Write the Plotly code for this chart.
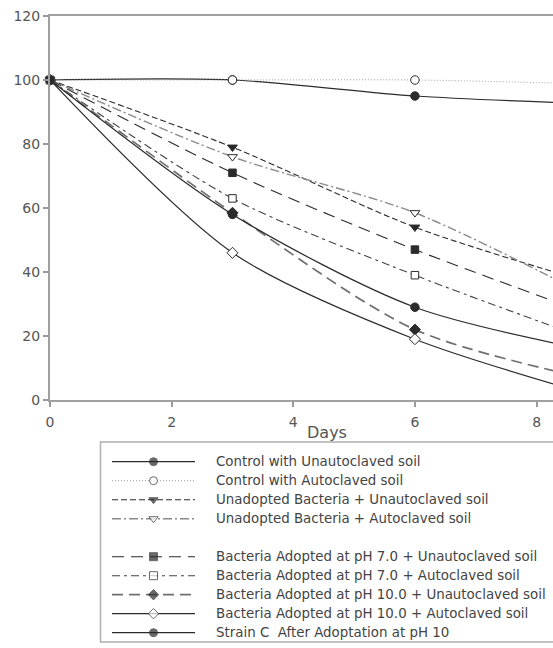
import plotly.graph_objects as go

days = [0, 3, 6, 9]

ctrl_unauto = [100, 100, 95, 92.5]
ctrl_auto = [100, 100, 100, 98.7]
unad_unauto = [100, 79, 54, 36]
unad_auto = [100, 76, 58.5, 31]
ph7_unauto = [100, 71, 47, 26]
ph7_auto = [100, 63, 39, 18]
ph10_unauto = [100, 58.5, 22, 6]
ph10_auto = [100, 46, 19, 1]
strain_c = [100, 58, 29, 15]

names = [
    "Control with Unautoclaved soil",
    "Control with Autoclaved soil",
    "Unadopted Bacteria + Unautoclaved soil",
    "Unadopted Bacteria + Autoclaved soil",
    "Bacteria Adopted at pH 7.0 + Unautoclaved soil",
    "Bacteria Adopted at pH 7.0 + Autoclaved soil",
    "Bacteria Adopted at pH 10.0 + Unautoclaved soil",
    "Bacteria Adopted at pH 10.0 + Autoclaved soil",
    "Strain C  After Adoptation at pH 10",
]
values = [ctrl_unauto, ctrl_auto, unad_unauto, unad_auto, ph7_unauto,
          ph7_auto, ph10_unauto, ph10_auto, strain_c]
legend_rows = [0, 1, 2, 3, 5, 6, 7, 8, 9]

DARK = "#2b2b2b"
styles = [
    dict(dash="solid", color=DARK, width=1.2, symbol="circle", fill=DARK),
    dict(dash="1px,2px", color="#9a9a9a", width=1.0, symbol="circle", fill="white"),
    dict(dash="6px,3px", color=DARK, width=1.1, symbol="triangle-down", fill=DARK),
    dict(dash="9px,3px,2px,3px", color="#8a8a8a", width=1.4, symbol="triangle-down", fill="white"),
    dict(dash="12px,7px", color=DARK, width=1.1, symbol="square", fill=DARK),
    dict(dash="8px,4px,3px,4px", color="#444444", width=1.1, symbol="square", fill="white"),
    dict(dash="11px,6px", color="#6f6f6f", width=1.7, symbol="diamond", fill=DARK),
    dict(dash="solid", color=DARK, width=1.2, symbol="diamond", fill="white"),
    dict(dash="solid", color=DARK, width=1.2, symbol="circle", fill=DARK),
]

W, H = 553, 648
ML, MT = 50, 16
plot_bottom_px = 400
paper_h = H - MT
main_dom_lo = (H - plot_bottom_px) / paper_h

def px_x(p):
    return (p - ML) / (W - ML)

def px_y(p):
    return (H - p) / paper_h

SAMPLE_L, SAMPLE_R = 112, 195
sample_w = SAMPLE_R - SAMPLE_L
x2_max = (W - SAMPLE_L) / sample_w
text_x = (214 - SAMPLE_L) / sample_w

FONT = "DejaVu Sans, Arial"

fig = go.Figure()

for name, vals, st in zip(names, values, styles):
    fig.add_trace(go.Scatter(
        x=days, y=vals, mode="lines+markers", name=name,
        line=dict(color=st["color"], width=st["width"], dash=st["dash"],
                  shape="spline", smoothing=0.8),
        marker=dict(symbol=st["symbol"], size=8.5 if st["symbol"] != "square" else 7.5,
                    color=st["fill"], line=dict(color=DARK, width=1)),
        cliponaxis=False, showlegend=False,
        xaxis="x", yaxis="y",
    ))

# legend built on a hidden helper axis pair (rows indexed from legend_rows)
for name, row, st in zip(names, legend_rows, styles):
    fig.add_trace(go.Scatter(
        x=[0, 0.5, 1], y=[row, row, row], mode="lines+markers",
        line=dict(color=st["color"], width=st["width"], dash=st["dash"]),
        marker=dict(symbol=st["symbol"], size=[0, 8, 0],
                    color=st["fill"], line=dict(color=DARK, width=[0, 1, 0])),
        cliponaxis=False, showlegend=False, hoverinfo="skip",
        xaxis="x2", yaxis="y2",
    ))
    fig.add_annotation(x=text_x, y=row, xref="x2", yref="y2", text=name,
                       showarrow=False, xanchor="left", yanchor="middle",
                       font=dict(family=FONT, size=13.4, color="#444444"))

fig.add_annotation(x=4.55, y=px_y(432), xref="x", yref="paper", text="Days",
                   showarrow=False, xanchor="center", yanchor="middle",
                   font=dict(family=FONT, size=16, color="#555555"))

fig.add_shape(type="rect", xref="paper", yref="paper",
              x0=px_x(100.5), x1=1.2, y0=px_y(642), y1=px_y(442),
              line=dict(color="#b0b0b0", width=1.5), fillcolor="rgba(0,0,0,0)")

axis_font = dict(family=FONT, size=14, color="#555555")
fig.update_layout(
    width=W, height=H,
    margin=dict(l=ML, r=0, t=MT, b=0, pad=0, autoexpand=False),
    paper_bgcolor="white", plot_bgcolor="white",
    showlegend=False,
    xaxis=dict(range=[0, 8.27], tickvals=[0, 2, 4, 6, 8], ticks="outside",
               ticklen=5, tickcolor="#999999", tickwidth=1.5,
               showline=True, linecolor="#a0a0a0", linewidth=2, mirror=True,
               showgrid=False, zeroline=False, tickfont=axis_font,
               ticklabelstandoff=3, anchor="y", domain=[0, 1], automargin=False),
    yaxis=dict(range=[0, 120], tickvals=[0, 20, 40, 60, 80, 100, 120], ticks="outside",
               ticklen=5, tickcolor="#999999", tickwidth=1.5,
               showline=True, linecolor="#a0a0a0", linewidth=2, mirror=True,
               showgrid=False, zeroline=False, tickfont=axis_font,
               anchor="x", domain=[main_dom_lo, 1], automargin=False),
    xaxis2=dict(range=[0, x2_max], domain=[px_x(SAMPLE_L), 1], visible=False,
                anchor="y2", fixedrange=True, automargin=False),
    yaxis2=dict(range=[9.5, -0.5], domain=[px_y(642.2), px_y(452.2)], visible=False,
                anchor="x2", fixedrange=True, automargin=False),
)

fig.write_html("out.html", config={"displayModeBar": False},
               post_script="document.body.style.margin='0';document.body.style.overflow='hidden';")
